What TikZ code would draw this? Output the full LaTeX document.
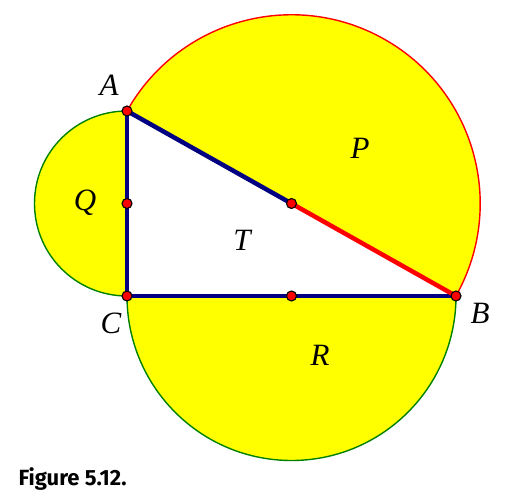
\documentclass[tikz,border=0pt]{standalone}
\usepackage{fontspec}
\setmainfont{Liberation Serif}
\newfontfamily\capfont{Fira Sans}
\usetikzlibrary{calc}
\definecolor{navy}{RGB}{0,0,128}
\definecolor{semigreen}{RGB}{0,128,0}
\definecolor{semiyellow}{RGB}{255,255,0}

\begin{document}
\begin{tikzpicture}[
    x=1pt, y=1pt,
    semi/.style={fill=semiyellow, draw=semigreen, line width=1.4pt},
    side/.style={navy, line width=4.5pt},
    dot/.style={circle, fill=red, draw=black, line width=1.1pt, inner sep=0pt, minimum size=10pt},
    lbl/.style={font=\fontsize{31}{33}\selectfont\itshape}
]
\useasboundingbox (0,0) rectangle (521,497);
% vertices
\coordinate (A) at (127,386);
\coordinate (C) at (127,201);
\coordinate (B) at (456,201);
\coordinate (mAC) at ($(A)!0.5!(C)$);
\coordinate (mCB) at ($(C)!0.5!(B)$);
\coordinate (mAB) at ($(A)!0.5!(B)$);

% semicircles
\fill[semiyellow] (A) arc[start angle=150.65, end angle=-29.35, radius=188.7] -- cycle;
\draw[red, line width=1.4pt] (A) arc[start angle=150.65, end angle=-29.35, radius=188.7];
\draw[semi] (A) arc[start angle=90, end angle=270, radius=92.5];
\draw[semi] (C) arc[start angle=180, end angle=360, radius=164.5];

% sides
\draw[side] (A)--(C);
\draw[side] (C)--(B);
\draw[side] (A)--(mAB);
\draw[red, line width=4.5pt] (mAB)--(B);

\foreach \p in {A,B,C,mAC,mCB,mAB}
  \node[dot] at (\p) {};

% labels
\node[lbl] (lA) at (109,412) {A};
\node[lbl] (lC) at (111,174) {C};
\node[lbl] (lB) at (480,184) {B};
\node[lbl] (lP) at (360,349) {P};
\node[lbl] (lQ) at (85,294) {Q};
\node[lbl] (lT) at (242,257) {T};
\node[lbl] (lR) at (320,142) {R};

\node[anchor=west, font=\capfont\bfseries\fontsize{22}{24}\selectfont] (cap) at (15,18) {Figure 5.12.};
\end{tikzpicture}
\end{document}
